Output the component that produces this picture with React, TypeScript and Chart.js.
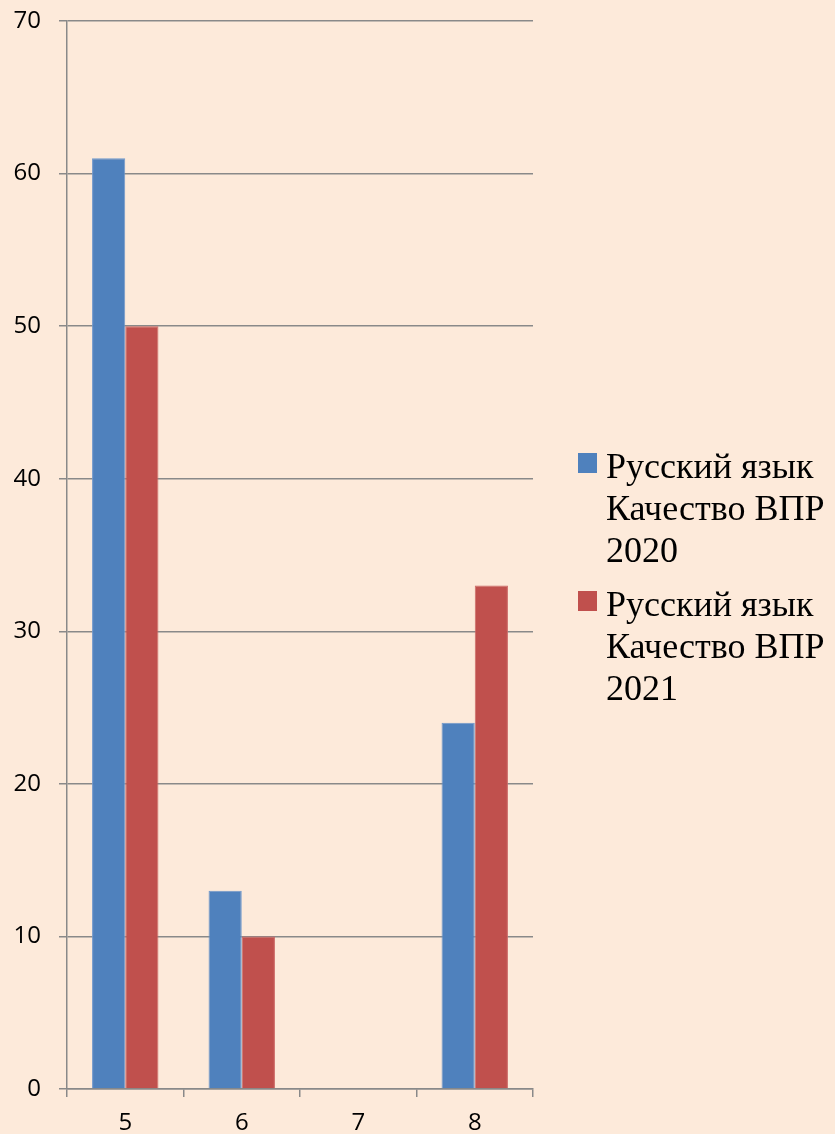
import React, { useEffect, useRef } from "react";
import { Chart, registerables } from "chart.js";

Chart.register(...registerables);

const categories = ["5", "6", "7", "8"];
const series2020 = [61, 13, 0, 24];
const series2021 = [50, 10, 0, 33];
const legend2020 = ["Русский язык", "Качество ВПР", "2020"];
const legend2021 = ["Русский язык", "Качество ВПР", "2021"];

const BG = "#FDEADA";
const BLUE = "#4F81BD";
const RED = "#C0504D";
const GRID = "#898989";

export default function App() {
  const ref = useRef<HTMLCanvasElement | null>(null);

  useEffect(() => {
    document.body.style.margin = "0";
    document.body.style.background = BG;
    const ctx = ref.current!;
    const chart = new Chart(ctx, {
      type: "bar",
      data: {
        labels: categories,
        datasets: [
          {
            label: legend2020.join(" "),
            data: series2020,
            backgroundColor: BLUE,
            borderColor: "#6F98CC",
            borderWidth: 1,
            categoryPercentage: 0.57,
            barPercentage: 1,
          },
          {
            label: legend2021.join(" "),
            data: series2021,
            backgroundColor: RED,
            borderColor: "#CD6A67",
            borderWidth: 1,
            categoryPercentage: 0.57,
            barPercentage: 1,
          },
        ],
      },
      options: {
        responsive: false,
        animation: false,
        layout: { padding: { top: 21, right: 302, left: 0, bottom: 0 } },
        plugins: {
          legend: { display: false },
          tooltip: { enabled: false },
        },
        scales: {
          x: {
            grid: {
              offset: true,
              drawOnChartArea: false,
              drawTicks: true,
              tickLength: 8,
              color: GRID,
              lineWidth: 1.5,
            },
            border: { color: GRID, width: 1.5 },
            ticks: {
              color: "#000",
              padding: 12,
              font: { family: "Open Sans", size: 24 },
            },
            afterFit: (s: any) => {
              s.height = 45;
              s.paddingLeft = 0;
              s.paddingRight = 0;
            },
          },
          y: {
            min: 0,
            max: 70,
            ticks: {
              stepSize: 10,
              color: "#000",
              padding: 18,
              font: { family: "Open Sans", size: 24 },
            },
            grid: {
              color: GRID,
              lineWidth: 1.5,
              tickLength: 8,
            },
            border: { color: GRID, width: 1.5 },
            afterFit: (s: any) => {
              s.width = 67;
              s.paddingTop = 0;
              s.paddingBottom = 0;
            },
          },
        },
      },
    });
    return () => chart.destroy();
  }, []);

  const legendItem = (lines: string[], color: string, top: number) => (
    <div style={{ position: "absolute", left: 578, top, display: "flex" }}>
      <div
        style={{
          width: 19,
          height: 20,
          background: color,
          marginTop: 8,
          marginRight: 9,
          flex: "none",
        }}
      />
      <div
        style={{
          fontFamily: "'Liberation Serif', 'Times New Roman', serif",
          fontSize: 36,
          lineHeight: "42px",
          color: "#000",
          whiteSpace: "nowrap",
        }}
      >
        {lines.map((l, i) => (
          <div key={i}>{l}</div>
        ))}
      </div>
    </div>
  );

  return (
    <div style={{ position: "relative", width: 835, height: 1134, background: BG, overflow: "hidden" }}>
      <canvas ref={ref} width={835} height={1134} style={{ display: "block" }} />
      {legendItem(legend2020, BLUE, 445)}
      {legendItem(legend2021, RED, 583)}
    </div>
  );
}
